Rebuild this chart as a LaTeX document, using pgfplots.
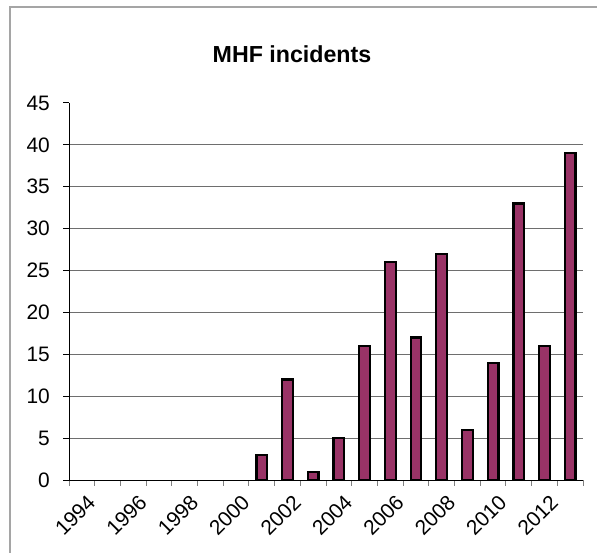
\documentclass[border=0pt]{standalone}
\usepackage{pgfplots}
\pgfplotsset{compat=1.18}
\usepackage{fontspec}
\setmainfont{Liberation Sans}
\definecolor{barfill}{RGB}{153,51,102}
\definecolor{gridgray}{RGB}{110,110,110}
\definecolor{framegray}{RGB}{165,165,165}
\begin{document}
\begin{tikzpicture}
\path[use as bounding box] (0bp,0bp) rectangle (597bp,555bp);
\draw[line width=1.5bp, color=framegray] (10bp,2bp) -- (10bp,548bp) -- (597bp,548bp);
\node[font=\bfseries\fontsize{23.3}{28}\selectfont] at (292bp,500.5bp) {MHF incidents};
\begin{axis}[
  at={(69bp,75bp)}, anchor=south west,
  scale only axis, width=514bp, height=377bp,
  xmin=-0.5, xmax=19.5, ymin=0, ymax=45,
  axis x line=bottom, axis y line=left,
  axis line style={-, line width=1bp, black},
  tick align=outside,
  major tick length=6bp,
  minor tick length=6bp,
  ytick={0,5,...,40},
  yticklabels={0,5,10,15,20,25,30,35,40},
  yticklabel style={font=\fontsize{21}{25}\selectfont, anchor=east, inner sep=0pt, xshift=-13bp},
  ymajorgrids,
  major grid style={color=gridgray, line width=0.8bp},
  extra y ticks={45},
  extra y tick labels={45},
  extra y tick style={ymajorgrids=false},
  y tick style={black, line width=1bp},
  xtick={0,2,...,18},
  xticklabels={1994,1996,1998,2000,2002,2004,2006,2008,2010,2012},
  xticklabel style={font=\fontsize{21}{25}\selectfont, rotate=45, anchor=east, inner sep=0pt, yshift=-16bp, xshift=-2bp},
  minor xtick={-0.5,0.5,...,19.5},
  x tick style={color=gray, line width=1bp},
  every major x tick/.append style={draw=none},
  ybar, bar width=10.7bp,
]
\addplot[fill=barfill, draw=black, line width=2.2bp] coordinates {
  (7,3) (8,12) (9,1) (10,5) (11,16) (12,26) (13,17)
  (14,27) (15,6) (16,14) (17,33) (18,16) (19,39)
};
\end{axis}
\end{tikzpicture}
\end{document}
